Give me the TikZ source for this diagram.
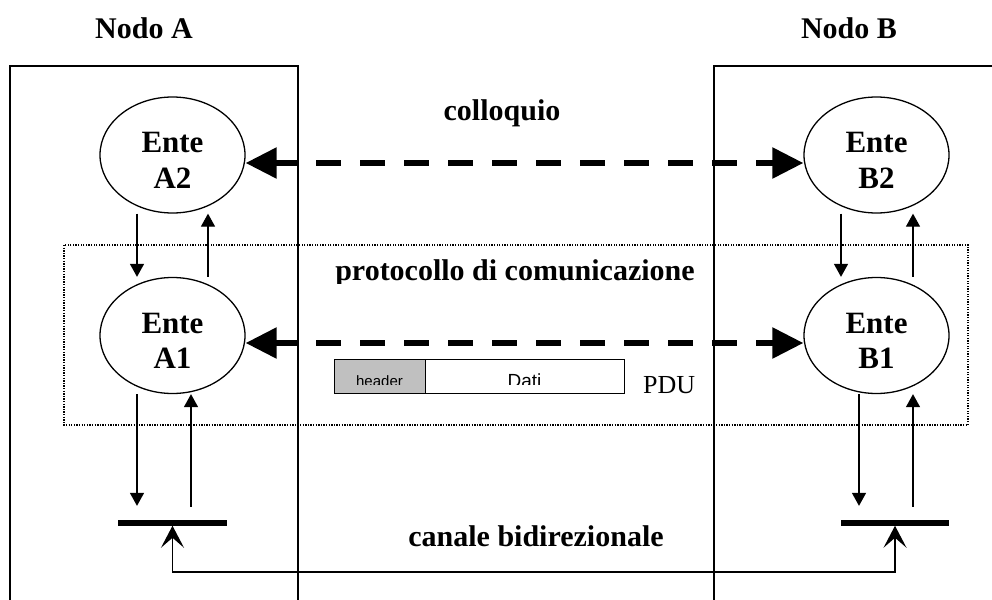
\documentclass[tikz,border=0pt]{standalone}
\usepackage{fontspec}
\setmainfont{Liberation Serif}
\newfontfamily\arialfont{Liberation Sans}
\usetikzlibrary{arrows.meta,shapes.geometric,calc}
\definecolor{hdrgray}{RGB}{192,192,192}
\begin{document}
\begin{tikzpicture}[x=1pt,y=-1pt,
  ente/.style={draw, ellipse, line width=1.3pt, minimum width=145pt, minimum height=116pt, inner sep=0pt},
  bigtxt/.style={font=\fontsize{30}{35}\selectfont\bfseries, inner sep=0pt, anchor=base},
  entetxt/.style={font=\fontsize{31}{35.5}\selectfont\bfseries, align=center, inner sep=0pt},
  thinln/.style={line width=1.3pt},
  vert/.style={line width=1.3pt, -{Triangle[length=13pt,width=14pt]}},
  talk/.style={line width=5.5pt, dash pattern=on 25pt off 19pt, dash phase=3pt,
    {Triangle[length=31pt,width=30pt]}-{Triangle[length=31pt,width=30pt]}},
  chanbar/.style={fill=black, minimum width=109pt, minimum height=5.5pt, inner sep=0pt},
  chan/.style={line width=1.3pt, {Stealth[length=22pt,width=23pt,inset=10pt]}-{Stealth[length=22pt,width=23pt,inset=10pt]}},
  pdubox/.style={draw, line width=1.3pt, minimum height=34pt, inner sep=0pt, anchor=north west},
]
\useasboundingbox (0,0) rectangle (992,599);

% protocol layer (dotted)
\draw[line width=1.3pt, dash pattern=on 1.3pt off 1.3pt] (64,245) rectangle (968,425);

% node boxes
\draw[thinln] (10,600) -- (10,66) -- (298,66) -- (298,600);
\draw[thinln] (714,600) -- (714,66) -- (993,66);

% titles
\node[bigtxt] (nA) at (144,38.3) {Nodo A};
\node[bigtxt] (nB) at (849,38.3) {Nodo B};
\node[bigtxt] (coll) at (502,120.7) {colloquio};
\begin{scope}
  \clip (300,240) rectangle (720,283);
  \node[bigtxt] (prot) at (515,280.5) {protocollo di comunicazione};
\end{scope}
\node[bigtxt] (can) at (536,546) {canale bidirezionale};

% entities
\node[ente, label={[entetxt, yshift=-5.5pt]center:Ente\\A2}] (A2) at (172.5,155) {};
\node[ente, label={[entetxt, yshift=-5.5pt]center:Ente\\A1}] (A1) at (172.5,335.5) {};
\node[ente, label={[entetxt, yshift=-5.5pt]center:Ente\\B2}] (B2) at (876.5,155) {};
\node[ente, label={[entetxt, yshift=-5.5pt]center:Ente\\B1}] (B1) at (876.5,335.5) {};

% channel bars
\node[chanbar] (barA) at (172.5,522.8) {};
\node[chanbar, minimum width=108pt] (barB) at (895,522.8) {};

% x positions of vertical arrows
\coordinate (xa) at (137,0);
\coordinate (xb) at (208,0);
\coordinate (xc) at (191,0);
\coordinate (xd) at (841,0);
\coordinate (xe) at (913,0);
\coordinate (xf) at (859,0);

% vertical arrows A
\draw[vert] (A2.south -| xa) -- (A1.north -| xa);
\draw[vert] (A1.north -| xb) -- (A2.south -| xb);
\draw[vert, shorten >=14pt] (A1.south -| xa) -- (barA.north -| xa);
\draw[vert, shorten <=13pt] (barA.north -| xc) -- (A1.south -| xc);
% vertical arrows B
\draw[vert] (B2.south -| xd) -- (B1.north -| xd);
\draw[vert] (B1.north -| xe) -- (B2.south -| xe);
\draw[vert, shorten >=14pt] (B1.south -| xf) -- (barB.north -| xf);
\draw[vert, shorten <=13pt] (barB.north -| xe) -- (B1.south -| xe);

% peer dialogues
\draw[talk] ([yshift=-8pt]A2.east) -- ([yshift=-8pt]B2.west);
\draw[talk] ([yshift=-7.5pt]A1.east) -- ([yshift=-7.5pt]B1.west);

% bidirectional channel
\coordinate (chlow) at (0,572);
\draw[chan] (barA.south) -- (barA.south |- chlow) -| (barB.south);

% PDU
\node[pdubox, fill=hdrgray, minimum width=91pt] (hdr) at (334,359) {};
\node[pdubox, minimum width=199pt] (dati) at (425,359) {};
\begin{scope}
  \clip (334,359) rectangle (624,384.5);
  \node[font=\arialfont\fontsize{15}{17}\selectfont, anchor=base, inner sep=0pt] (hdrt) at (379.5,386) {header};
  \node[font=\arialfont\fontsize{19}{21}\selectfont, anchor=base, inner sep=0pt] (datit) at (524.5,387.5) {Dati};
\end{scope}
\node[font=\fontsize{26}{30}\selectfont, anchor=base west, inner sep=0pt] (pdu) at (643,393) {PDU};
\end{tikzpicture}
\end{document}
